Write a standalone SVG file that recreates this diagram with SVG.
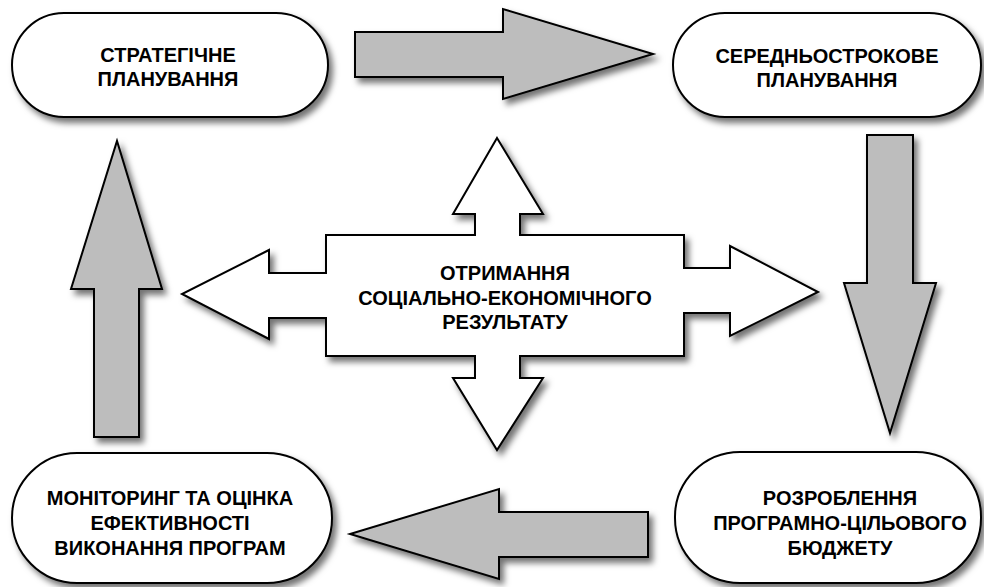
<svg xmlns="http://www.w3.org/2000/svg" width="984" height="587" viewBox="0 0 984 587">
<defs>
<filter id="sh" x="-10%" y="-10%" width="130%" height="130%">
<feDropShadow dx="4" dy="5" stdDeviation="3" flood-color="#000" flood-opacity="0.55"/>
</filter>
</defs>
<style>
.node{fill:#fff;stroke:#000;stroke-width:2;filter:url(#sh)}
.arr{fill:#bdbdbd;stroke:#000;stroke-width:2;stroke-linejoin:miter;filter:url(#sh)}
.t{font-family:"Liberation Sans",Arial,sans-serif;font-weight:700;font-size:20px;fill:#000;text-anchor:middle}
</style>
<rect width="984" height="587" fill="#fff"/>
<g id="connectors">
<polygon class="arr" points="355,32 503,32 503,9 653,54 503,99 503,77 355,77"/>
<polygon class="arr" points="867,135 913,135 913,283 936,283 890,433 844,283 867,283"/>
<polygon class="arr" points="648,512 499,512 499,489 350,534 499,579 499,557 648,557"/>
<polygon class="arr" points="94,437 94,289 71,289 117,141 162,289 139,289 139,437"/>
</g>
<g id="strategic">
<rect class="node" x="12" y="13" width="316" height="104" rx="52"/>
<text class="t" x="168" y="62">СТРАТЕГІЧНЕ</text>
<text class="t" x="168" y="86">ПЛАНУВАННЯ</text>
</g>
<g id="medium">
<rect class="node" x="673" y="13" width="308" height="104" rx="52"/>
<text class="t" x="827" y="63">СЕРЕДНЬОСТРОКОВЕ</text>
<text class="t" x="827" y="87">ПЛАНУВАННЯ</text>
</g>
<g id="budget">
<rect class="node" x="675" y="452" width="306" height="131" rx="65"/>
<text class="t" x="840" y="505">РОЗРОБЛЕННЯ</text>
<text class="t" x="840" y="530">ПРОГРАМНО-ЦІЛЬОВОГО</text>
<text class="t" x="840" y="555">БЮДЖЕТУ</text>
</g>
<g id="monitoring">
<rect class="node" x="12" y="453" width="320" height="130" rx="65"/>
<text class="t" x="170" y="505">МОНІТОРИНГ ТА ОЦІНКА</text>
<text class="t" x="170" y="530">ЕФЕКТИВНОСТІ</text>
<text class="t" x="170" y="555">ВИКОНАННЯ ПРОГРАМ</text>
</g>
<g id="result">
<polygon class="node" points="497,138 543,214 520,214 520,235 684,235 684,268 730,268 730,246 818,292 730,336 730,313 684,313 684,356 520,356 520,378 543,378 497,450 453,378 475,378 475,356 326,356 326,318 269,318 269,339 182,294 269,250 269,273 326,273 326,235 475,235 475,214 453,214"/>
<text class="t" x="505" y="280">ОТРИМАННЯ</text>
<text class="t" x="505" y="305">СОЦІАЛЬНО-ЕКОНОМІЧНОГО</text>
<text class="t" x="505" y="329">РЕЗУЛЬТАТУ</text>
</g>
</svg>
